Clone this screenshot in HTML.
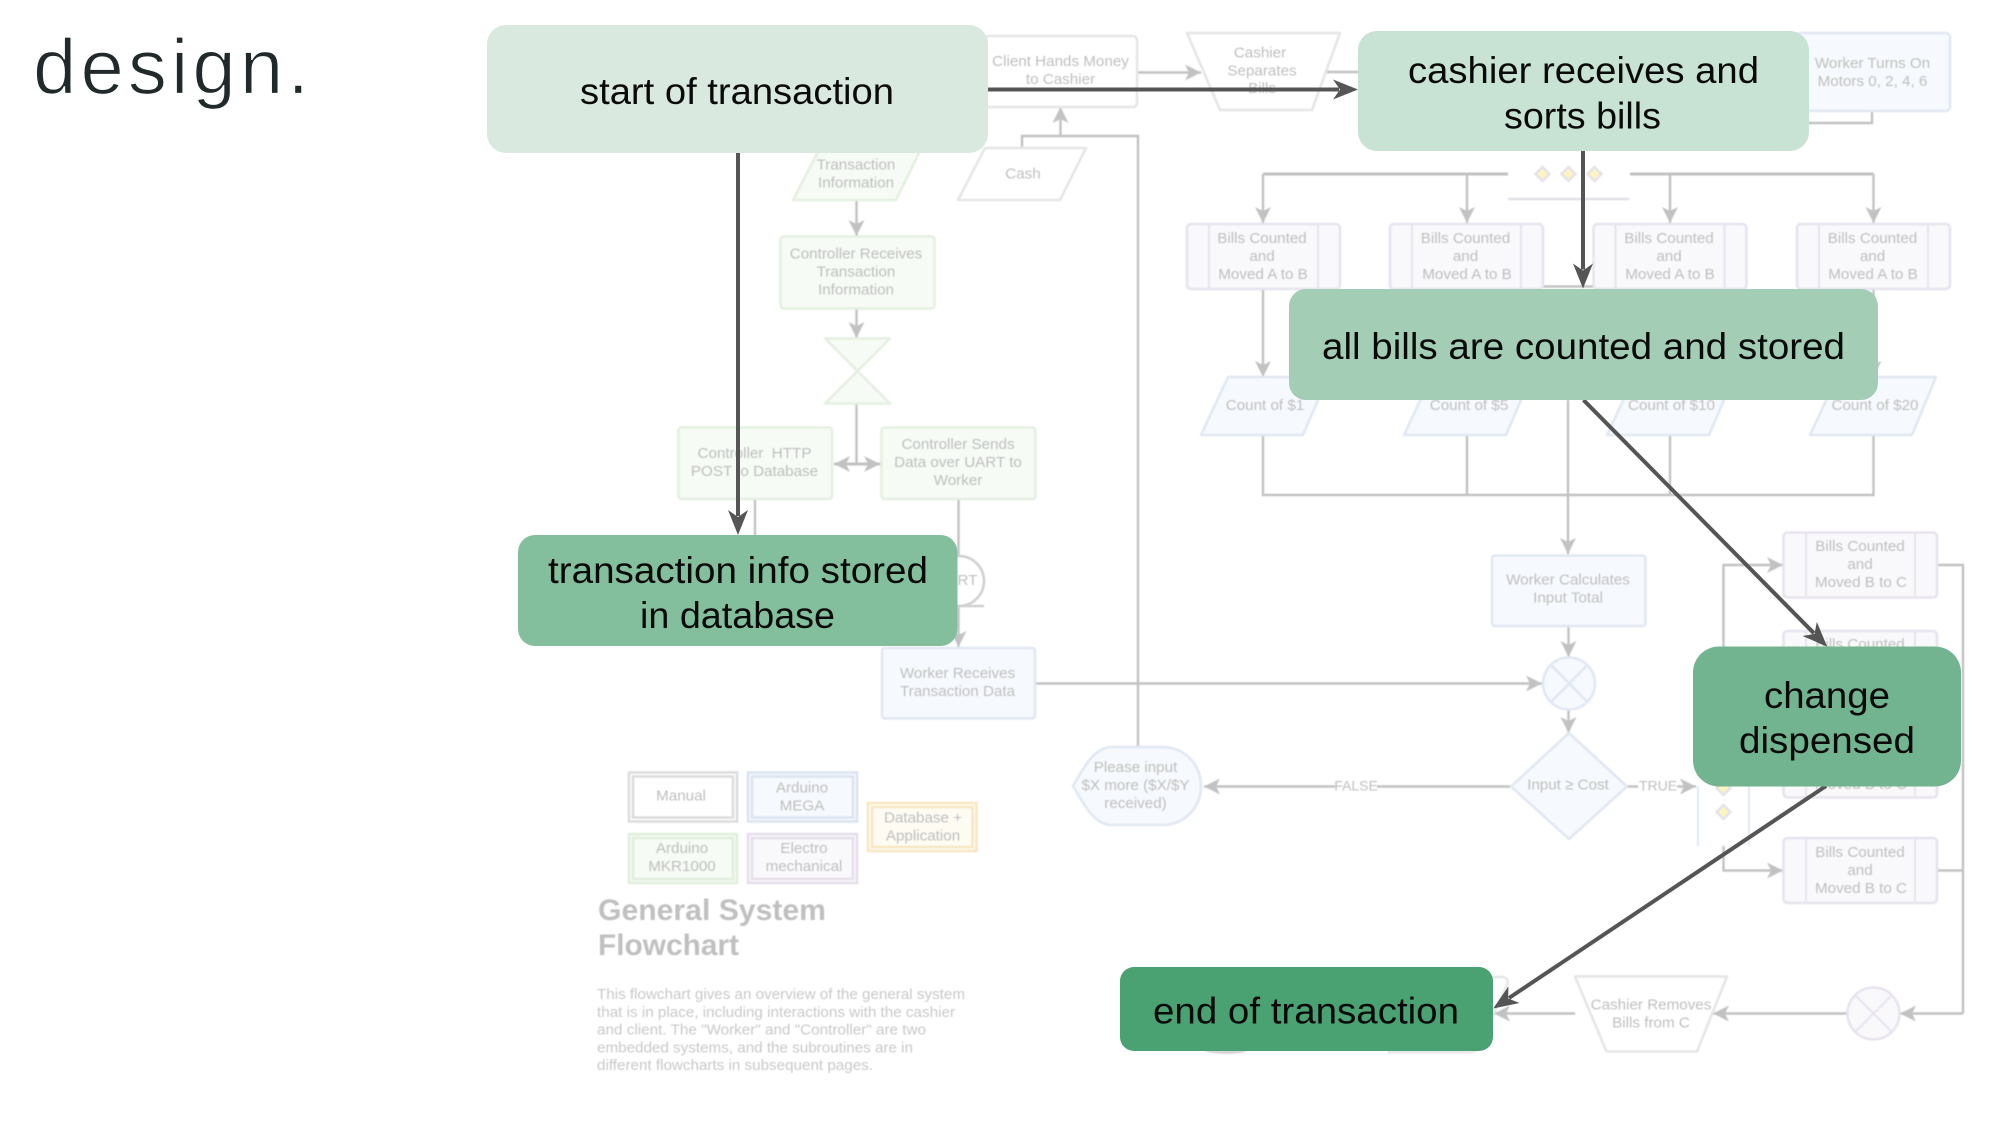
<!DOCTYPE html>
<html lang="en">
<head>
<meta charset="utf-8">
<title>design.</title>
<style>
html,body{margin:0;padding:0;background:#fff;}
svg{display:block;}
text{font-family:"Liberation Sans",sans-serif;}
.t{font-size:15.2px;fill:#bfbfbf;text-anchor:middle;transform:translateY(-.8px);}
.b{font-size:37px;fill:#0a0a0a;}
.p{font-size:15.2px;fill:#c8c8c8;}
.h{font-size:29.5px;font-weight:bold;fill:#c0c0c0;}
.c{fill:none;stroke:#c2c2c2;stroke-width:2.4;}
.ce{fill:none;stroke:#c2c2c2;stroke-width:2.4;marker-end:url(#g);}
.gr{fill:#fff;stroke:#e6e6e6;stroke-width:2.6;}
.bl{fill:#f6f9fd;stroke:#e1e8f3;stroke-width:2.6;}
.gn{fill:#f6fbf5;stroke:#e4f0e1;stroke-width:2.6;}
.pu{fill:#f9f8fb;stroke:#e8e3ef;stroke-width:2.6;}
.in{fill:none;stroke:#e8e3ef;stroke-width:2;}
.ye{fill:#fdf5c0;stroke:#e4e2ea;stroke-width:2.5;}
.d{fill:none;stroke:#555;stroke-width:4;marker-end:url(#k);}
</style>
</head>
<body>
<svg xmlns="http://www.w3.org/2000/svg" width="2000" height="1125" viewBox="0 0 2000 1125">
<defs>
<marker id="g" markerUnits="userSpaceOnUse" markerWidth="18" markerHeight="18" refX="16" refY="8" orient="auto" overflow="visible"><polygon points="16,8 0,0 4,8 0,16" fill="#c2c2c2"/></marker>
<marker id="gs" markerUnits="userSpaceOnUse" markerWidth="18" markerHeight="18" refX="16" refY="8" orient="auto-start-reverse" overflow="visible"><polygon points="16,8 0,0 4,8 0,16" fill="#c2c2c2"/></marker>
<marker id="k" markerUnits="userSpaceOnUse" markerWidth="26" markerHeight="20" refX="6" refY="10" orient="auto" overflow="visible"><polygon points="25,10 0,0 7,10 0,20" fill="#555"/></marker>
</defs>

<g style="filter:blur(.4px)">
<!-- connectors -->
<path class="ce" d="M1137 72.5H1201"/>
<path class="c" d="M1320 72H1360"/>
<path class="c" d="M1872 111V123H1805"/>
<path class="c" d="M1022 148V136H1138V747"/>
<path class="ce" d="M1060.5 136V107"/>
<path class="ce" d="M856.5 200V236"/>
<path class="ce" d="M856.5 308V338"/>
<path class="c" d="M856.5 404V464"/>
<path d="M834 464H880" fill="none" stroke="#c2c2c2" stroke-width="3" marker-start="url(#gs)" marker-end="url(#g)"/>
<path class="c" d="M755 499V540"/>
<path class="c" d="M958.5 499V557"/>
<path class="ce" d="M958.5 606V647"/>
<path class="ce" d="M1035 683.5H1542"/>
<path class="c" d="M1263 174H1508M1630 174H1873.5" style="stroke-width:3"/>
<path d="M1508 199H1629" fill="none" stroke="#e2e0e6" stroke-width="2.4"/>
<path class="c" d="M1542 286.5H1596"/>
<path class="ce" d="M1263 174V223"/>
<path class="ce" d="M1467 174V223"/>
<path class="ce" d="M1670 174V223"/>
<path class="ce" d="M1873.5 174V223"/>
<path class="ce" d="M1263 289V377"/>
<path class="ce" d="M1467 289V377"/>
<path class="ce" d="M1670 289V377"/>
<path class="ce" d="M1873.5 289V377"/>
<path class="c" d="M1263 435V495H1873.5V435M1467 435V495M1670 435V495"/>
<path class="ce" d="M1568 400V554"/>
<path class="ce" d="M1568.5 625.5V657"/>
<path class="ce" d="M1568.5 709V733"/>
<path class="ce" d="M1511 786.5H1204"/>
<path class="ce" d="M1627 786.5H1696"/>
<path class="ce" d="M1723.5 660V565H1783"/>
<path class="ce" d="M1723.5 846V870.5H1783"/>
<path class="c" d="M1937 565H1963V1013.5"/>
<path class="c" d="M1937 870.5H1963"/>
<path class="ce" d="M1963 1013.5H1900"/>
<path class="ce" d="M1847 1013.5H1713"/>
<path class="ce" d="M1575 1013.5H1494"/>
<path d="M1698 786V846M1749 786V846" fill="none" stroke="#e1e8f3" stroke-width="2"/>

<!-- top row -->
<rect class="gr" x="985" y="36" width="152" height="71" rx="4"/>
<text class="t" x="1060.5" y="67">Client Hands Money</text>
<text class="t" x="1060.5" y="85">to Cashier</text>
<path class="gr" d="M1187 33H1340L1312 110H1220Z" stroke-linejoin="round"/>
<text class="t" x="1260" y="58.5">Cashier</text>
<text class="t" x="1262" y="76.5">Separates</text>
<text class="t" x="1262" y="94">Bills</text>
<rect class="bl" x="1797" y="33" width="153" height="78" rx="4"/>
<text class="t" x="1872.5" y="69">Worker Turns On</text>
<text class="t" x="1872.5" y="87">Motors 0, 2, 4, 6</text>
<path class="gr" d="M985 148H1086L1060 200H958Z" stroke-linejoin="round"/>
<text class="t" x="1023" y="179.5">Cash</text>
<path class="gn" d="M820 148H921.5L896 200H793Z" stroke-linejoin="round"/>
<text class="t" x="856" y="170.5">Transaction</text>
<text class="t" x="856" y="188.5">Information</text>

<!-- controller -->
<rect class="gn" x="780.5" y="236.5" width="154" height="72" rx="3"/>
<text class="t" x="856" y="259.5">Controller Receives</text>
<text class="t" x="856" y="277.5">Transaction</text>
<text class="t" x="856" y="295.5">Information</text>
<path class="gn" d="M825 338.5H890L825 403.5H890Z" stroke-linejoin="round"/>
<rect class="gn" x="678.5" y="427.5" width="153.5" height="71.5" rx="3"/>
<text class="t" x="754.5" y="459" xml:space="preserve">Controller  HTTP</text>
<text class="t" x="754.5" y="477">POST to Database</text>
<rect class="gn" x="881.5" y="427.5" width="154" height="71.5" rx="3"/>
<text class="t" x="958" y="450">Controller Sends</text>
<text class="t" x="958" y="468">Data over UART to</text>
<text class="t" x="958" y="486">Worker</text>
<circle cx="959" cy="581" r="25" fill="#fff" stroke="#cfcfcf" stroke-width="2.5"/>
<path d="M959 606H984" stroke="#cfcfcf" stroke-width="2.5"/>
<text class="t" x="957" y="586">UART</text>
<rect class="bl" x="882" y="648" width="153" height="70.5" rx="3"/>
<text class="t" x="957.5" y="679">Worker Receives</text>
<text class="t" x="957.5" y="697">Transaction Data</text>

<!-- fork -->
<path class="ye" d="M1547 167L1554 174L1547 181L1540 174Z" transform="translate(-4.5 0)"/>
<path class="ye" d="M1568.5 167L1575.5 174L1568.5 181L1561.5 174Z"/>
<path class="ye" d="M1594.5 167L1601.5 174L1594.5 181L1587.5 174Z"/>
<path class="ye" d="M1723.5 781L1730.5 788L1723.5 795L1716.5 788Z"/>
<path class="ye" d="M1723.5 805L1730.5 812L1723.5 819L1716.5 812Z"/>

<!-- bills A to B -->
<rect class="pu" x="1187" y="224" width="153" height="65" rx="4"/>
<path class="in" d="M1209 224V289M1318 224V289"/>
<text class="t" x="1262" y="244">Bills Counted</text>
<text class="t" x="1262" y="262">and</text>
<text class="t" x="1263" y="280">Moved A to B</text>
<rect class="pu" x="1390" y="224" width="153" height="65" rx="4"/>
<path class="in" d="M1412 224V289M1521 224V289"/>
<text class="t" x="1465.5" y="244">Bills Counted</text>
<text class="t" x="1465.5" y="262">and</text>
<text class="t" x="1467" y="280">Moved A to B</text>
<rect class="pu" x="1593.5" y="224" width="153" height="65" rx="4"/>
<path class="in" d="M1615.5 224V289M1724.5 224V289"/>
<text class="t" x="1669" y="244">Bills Counted</text>
<text class="t" x="1669" y="262">and</text>
<text class="t" x="1670" y="280">Moved A to B</text>
<rect class="pu" x="1797" y="224" width="153" height="65" rx="4"/>
<path class="in" d="M1819 224V289M1928 224V289"/>
<text class="t" x="1872.5" y="244">Bills Counted</text>
<text class="t" x="1872.5" y="262">and</text>
<text class="t" x="1873" y="280">Moved A to B</text>

<!-- counts -->
<path class="bl" d="M1228 377H1328L1303 435H1201Z" stroke-linejoin="round"/>
<text class="t" x="1265" y="411">Count of $1</text>
<path class="bl" d="M1431 377H1531L1506 435H1404Z" stroke-linejoin="round"/>
<text class="t" x="1469" y="411">Count of $5</text>
<path class="bl" d="M1634 377H1734L1709 435H1607Z" stroke-linejoin="round"/>
<text class="t" x="1671.5" y="411">Count of $10</text>
<path class="bl" d="M1837 377H1936L1912 435H1810Z" stroke-linejoin="round"/>
<text class="t" x="1875" y="411">Count of $20</text>

<!-- worker -->
<rect class="bl" x="1492" y="555.5" width="153.5" height="70.5" rx="3"/>
<text class="t" x="1568" y="585.5">Worker Calculates</text>
<text class="t" x="1568" y="603.5">Input Total</text>
<circle class="bl" cx="1569" cy="683.5" r="26"/>
<path class="bl" d="M1551 665L1587.5 702M1587.5 665L1551 702"/>
<path class="bl" d="M1569 733L1627 786.5L1569 839L1511 786.5Z" stroke-linejoin="round"/>
<text class="t" x="1568" y="790.5">Input ≥ Cost</text>
<rect x="1335" y="779" width="42" height="15" fill="#fff"/>
<text class="t" x="1356" y="791.5" style="font-size:14px">FALSE</text>
<rect x="1638" y="779" width="39" height="15" fill="#fff"/>
<text class="t" x="1658" y="791.5" style="font-size:14px">TRUE</text>
<path class="bl" d="M1073 786C1085 765 1095 747 1112 747H1162C1185 747 1201 765 1201 786C1201 807 1185 825 1162 825H1112C1095 825 1085 807 1073 786Z"/>
<text class="t" x="1135.5" y="773">Please input</text>
<text class="t" x="1135.5" y="791">$X more ($X/$Y</text>
<text class="t" x="1135.5" y="809">received)</text>

<!-- bills B to C -->
<rect class="pu" x="1783.5" y="532.5" width="153.5" height="65" rx="4"/>
<path class="in" d="M1806 532.5V597.5M1915 532.5V597.5"/>
<text class="t" x="1860" y="552">Bills Counted</text>
<text class="t" x="1860" y="570">and</text>
<text class="t" x="1861" y="588">Moved B to C</text>
<rect class="pu" x="1783.5" y="631" width="153.5" height="65" rx="4"/>
<path class="in" d="M1806 631V696M1915 631V696"/>
<text class="t" x="1860" y="650">Bills Counted</text>
<rect class="pu" x="1783.5" y="732.5" width="153.5" height="65" rx="4"/>
<path class="in" d="M1806 732.5V797.5M1915 732.5V797.5"/>
<text class="t" x="1861" y="790">Moved B to C</text>
<rect class="pu" x="1783.5" y="838" width="153.5" height="65" rx="4"/>
<path class="in" d="M1806 838V903M1915 838V903"/>
<text class="t" x="1860" y="858">Bills Counted</text>
<text class="t" x="1860" y="876">and</text>
<text class="t" x="1861" y="894">Moved B to C</text>

<!-- bottom row -->
<circle class="pu" cx="1873.5" cy="1013.5" r="26"/>
<path class="in" d="M1855 995L1892 1032M1892 995L1855 1032"/>
<path class="gr" d="M1575 976.5H1727L1697 1051.5H1606.5Z" stroke-linejoin="round"/>
<text class="t" x="1651" y="1010.5">Cashier Removes</text>
<text class="t" x="1651" y="1028.5">Bills from C</text>
<path class="gr" d="M1360 977H1500Q1510 977 1507 985L1478 1048Q1476 1052 1470 1052H1389Z" stroke-linejoin="round"/>
<ellipse cx="1226" cy="1047" rx="26" ry="7" fill="#d6d6d6"/>

<!-- legend -->
<rect x="629" y="772.5" width="108" height="49" fill="#fff" stroke="#dcdcdc" stroke-width="2.5"/>
<rect x="633" y="776.5" width="100" height="41" fill="none" stroke="#dcdcdc" stroke-width="2.5"/>
<text class="t" x="681" y="801.5">Manual</text>
<rect x="748" y="772.5" width="109" height="49" fill="#f6f9fd" stroke="#dbe4f1" stroke-width="2.5"/>
<rect x="752" y="776.5" width="101" height="41" fill="none" stroke="#dbe4f1" stroke-width="2.5"/>
<text class="t" x="802" y="793.5">Arduino</text>
<text class="t" x="802" y="811.5">MEGA</text>
<rect x="629" y="834" width="108" height="49" fill="#f6fbf5" stroke="#e0efdc" stroke-width="2.5"/>
<rect x="633" y="838" width="100" height="41" fill="none" stroke="#e0efdc" stroke-width="2.5"/>
<text class="t" x="682" y="854">Arduino</text>
<text class="t" x="682" y="872">MKR1000</text>
<rect x="748" y="834" width="109" height="49" fill="#f9f8fb" stroke="#e5dfeb" stroke-width="2.5"/>
<rect x="752" y="838" width="101" height="41" fill="none" stroke="#e5dfeb" stroke-width="2.5"/>
<text class="t" x="804" y="854">Electro</text>
<text class="t" x="804" y="872">mechanical</text>
<rect x="868" y="803" width="108.5" height="48" fill="#fefbf3" stroke="#f6e7c2" stroke-width="2.5"/>
<rect x="872" y="807" width="100.5" height="40" fill="none" stroke="#f6e7c2" stroke-width="2.5"/>
<text class="t" x="923" y="823.5">Database +</text>
<text class="t" x="923" y="841.5">Application</text>

<text class="h" x="598" y="920" textLength="228" lengthAdjust="spacingAndGlyphs">General System</text>
<text class="h" x="598" y="955" textLength="141" lengthAdjust="spacingAndGlyphs">Flowchart</text>
<text class="p" x="597" y="999" textLength="368" lengthAdjust="spacingAndGlyphs">This flowchart gives an overview of the general system</text>
<text class="p" x="597" y="1017" textLength="358" lengthAdjust="spacingAndGlyphs">that is in place, including interactions with the cashier</text>
<text class="p" x="597" y="1034.5" textLength="329" lengthAdjust="spacingAndGlyphs">and client. The "Worker" and "Controller" are two</text>
<text class="p" x="597" y="1052.5" textLength="316" lengthAdjust="spacingAndGlyphs">embedded systems, and the subroutines are in</text>
<text class="p" x="597" y="1070" textLength="276" lengthAdjust="spacingAndGlyphs">different flowcharts in subsequent pages.</text>
</g>

<!-- title -->
<text x="33" y="93.5" font-size="78" fill="#21292b" stroke="#fff" stroke-width="1.3" textLength="276">design.</text>

<!-- dark arrows -->
<path class="d" d="M738 153V516"/>
<path class="d" d="M988 89.5H1339"/>
<path class="d" d="M1583 151V269.5"/>
<path class="d" d="M1583.5 400L1813.9 633.2"/>
<path class="d" d="M1826 786L1509 998"/>

<!-- overlay boxes -->
<rect x="487" y="25" width="501" height="128" rx="19" fill="#d9e9df"/>
<text class="b" x="580" y="104" textLength="314" lengthAdjust="spacingAndGlyphs">start of transaction</text>

<rect x="1358" y="31" width="451" height="120" rx="19" fill="#c8e3d4"/>
<text class="b" x="1408" y="83" textLength="351" lengthAdjust="spacingAndGlyphs">cashier receives and</text>
<text class="b" x="1504" y="128.5" textLength="157" lengthAdjust="spacingAndGlyphs">sorts bills</text>

<rect x="1289" y="289" width="589" height="111" rx="17" fill="#a3cdb5"/>
<text class="b" x="1322" y="359" textLength="523" lengthAdjust="spacingAndGlyphs">all bills are counted and stored</text>

<rect x="518" y="535" width="439.5" height="111" rx="17" fill="#84bf9d"/>
<text class="b" x="548" y="583" textLength="380" lengthAdjust="spacingAndGlyphs">transaction info stored</text>
<text class="b" x="640" y="628" textLength="195" lengthAdjust="spacingAndGlyphs">in database</text>

<rect x="1693" y="646.5" width="268" height="140" rx="26" fill="#72b390"/>
<text class="b" x="1764" y="708" textLength="126" lengthAdjust="spacingAndGlyphs">change</text>
<text class="b" x="1739" y="753" textLength="176" lengthAdjust="spacingAndGlyphs">dispensed</text>

<rect x="1120" y="967" width="373" height="84" rx="14" fill="#4aa273"/>
<text class="b" x="1153" y="1023.5" textLength="306" lengthAdjust="spacingAndGlyphs">end of transaction</text>
</svg>
</body>
</html>
